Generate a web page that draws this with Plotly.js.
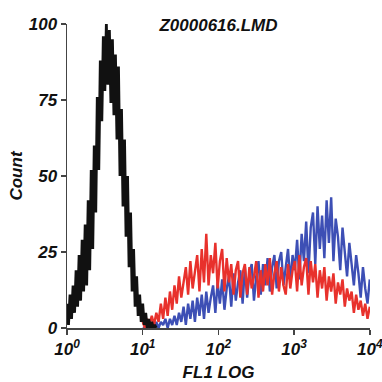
<!DOCTYPE html>
<html>
<head>
<meta charset="utf-8">
<script src="https://cdn.plot.ly/plotly-3.0.1.min.js"></script>
<style>html,body{margin:0;padding:0;background:#fff}#chart{width:382px;height:382px}</style>
</head>
<body>
<div id="chart"></div>
<script>
// Histogram channel grids (log10 of FL1 value at first bin, and bin step in decades)
const blackStartLog = 0.0, blackStepLog = 0.02;
const colorStartLog = 1.0, colorStepLog = 0.03;

// Black (control) histogram counts
const blackCounts = [8,1,11,3,14,5,19,7,24,9,29,12,34,14,42,19,52,26,60,38,76,52,88,68,96,78,100,80,98,74,95,70,90,62,86,50,72,40,62,30,50,20,38,12,26,7,17,4,11,2,8,1,5,0,3,0,2,0,1,0];

// Red histogram counts
const redCounts = [2,0,3,1,4,1,5,2,8,3,10,4,12,6,
  14,8,17,10,15,20,11,22,13,19,24,12,26,15,
  31,14,24,18,28,13,22,26,12,23,15,21,11,19,
  22,10,18,21,11,20,13,17,22,10,19,12,21,14,
  23,11,18,22,12,20,14,11,21,13,19,22,12,24,
  14,20,23,11,22,15,21,10,19,13,20,9,17,12,
  18,8,15,11,16,7,13,9,12,5,11,6,9,4,8,3,7];

// Blue histogram counts
const blueCounts = [0,0,1,0,1,0,2,0,2,1,3,0,3,1,
  4,1,5,2,7,1,8,3,9,2,10,4,11,3,
  12,5,10,14,5,15,8,16,6,13,17,7,18,9,
  15,19,8,20,10,18,21,9,17,22,11,21,14,23,
  12,20,24,13,22,25,14,21,26,15,24,19,29,16,
  31,22,35,18,33,38,21,40,26,37,23,42,28,43,
  22,36,30,19,33,25,17,28,21,14,24,18,10,20,13,8,16];

// Axis tick labels and titles
const xTickVals = [1, 10, 100, 1000, 10000];
const xTickText = ['10<sup>0</sup>', '10<sup>1</sup>', '10<sup>2</sup>', '10<sup>3</sup>', '10<sup>4</sup>'];
const yTickVals = [0, 25, 50, 75, 100];
const yTickText = ['0', '25', '50', '75', '100'];
const chartTitle = 'Z0000616.LMD';
const xTitle = 'FL1 LOG';
const yTitle = 'Count';

function channelX(counts, start, step) {
  return counts.map((_, i) => Math.pow(10, start + i * step));
}

const font = {family: 'Liberation Sans, Arial, sans-serif', size: 17, color: '#111', weight: 'bold', style: 'italic'};

const traces = [
  {x: channelX(blueCounts, colorStartLog, colorStepLog), y: blueCounts, type: 'scatter', mode: 'lines',
   line: {color: '#3d4fb5', width: 2.4}, hoverinfo: 'skip'},
  {x: channelX(redCounts, colorStartLog, colorStepLog), y: redCounts, type: 'scatter', mode: 'lines',
   line: {color: '#e8312c', width: 2.4}, hoverinfo: 'skip'},
  {x: channelX(blackCounts, blackStartLog, blackStepLog), y: blackCounts, type: 'scatter', mode: 'lines',
   line: {color: '#111111', width: 2.8}, hoverinfo: 'skip'}
];

const layout = {
  width: 382, height: 382,
  margin: {l: 67, r: 12, t: 24, b: 54},
  paper_bgcolor: '#fff', plot_bgcolor: '#fff',
  showlegend: false,
  font: font,
  title: {text: chartTitle, font: font, x: 0.5, xref: 'paper', y: 1 - 25/382, yref: 'container', yanchor: 'middle'},
  xaxis: {
    type: 'log', range: [0, 4.003], showgrid: false, zeroline: false,
    showline: true, linecolor: '#444', linewidth: 1.5,
    ticks: 'outside', ticklen: 5, tickwidth: 1.5, tickcolor: '#444',
    tickvals: xTickVals, ticktext: xTickText, tickfont: font, ticklabeloverflow: 'allow',
    title: {text: xTitle, font: font, standoff: 11}, automargin: false
  },
  yaxis: {
    range: [0, 100], showgrid: false, zeroline: false,
    showline: true, linecolor: '#444', linewidth: 1.5,
    ticks: 'outside', ticklen: 5, tickwidth: 1.5, tickcolor: '#444',
    tickvals: yTickVals, ticktext: yTickText, tickfont: font,
    title: {text: yTitle, font: font, standoff: 2}, automargin: false
  }
};

Plotly.newPlot('chart', traces, layout, {staticPlot: true, displayModeBar: false});
</script>
</body>
</html>
